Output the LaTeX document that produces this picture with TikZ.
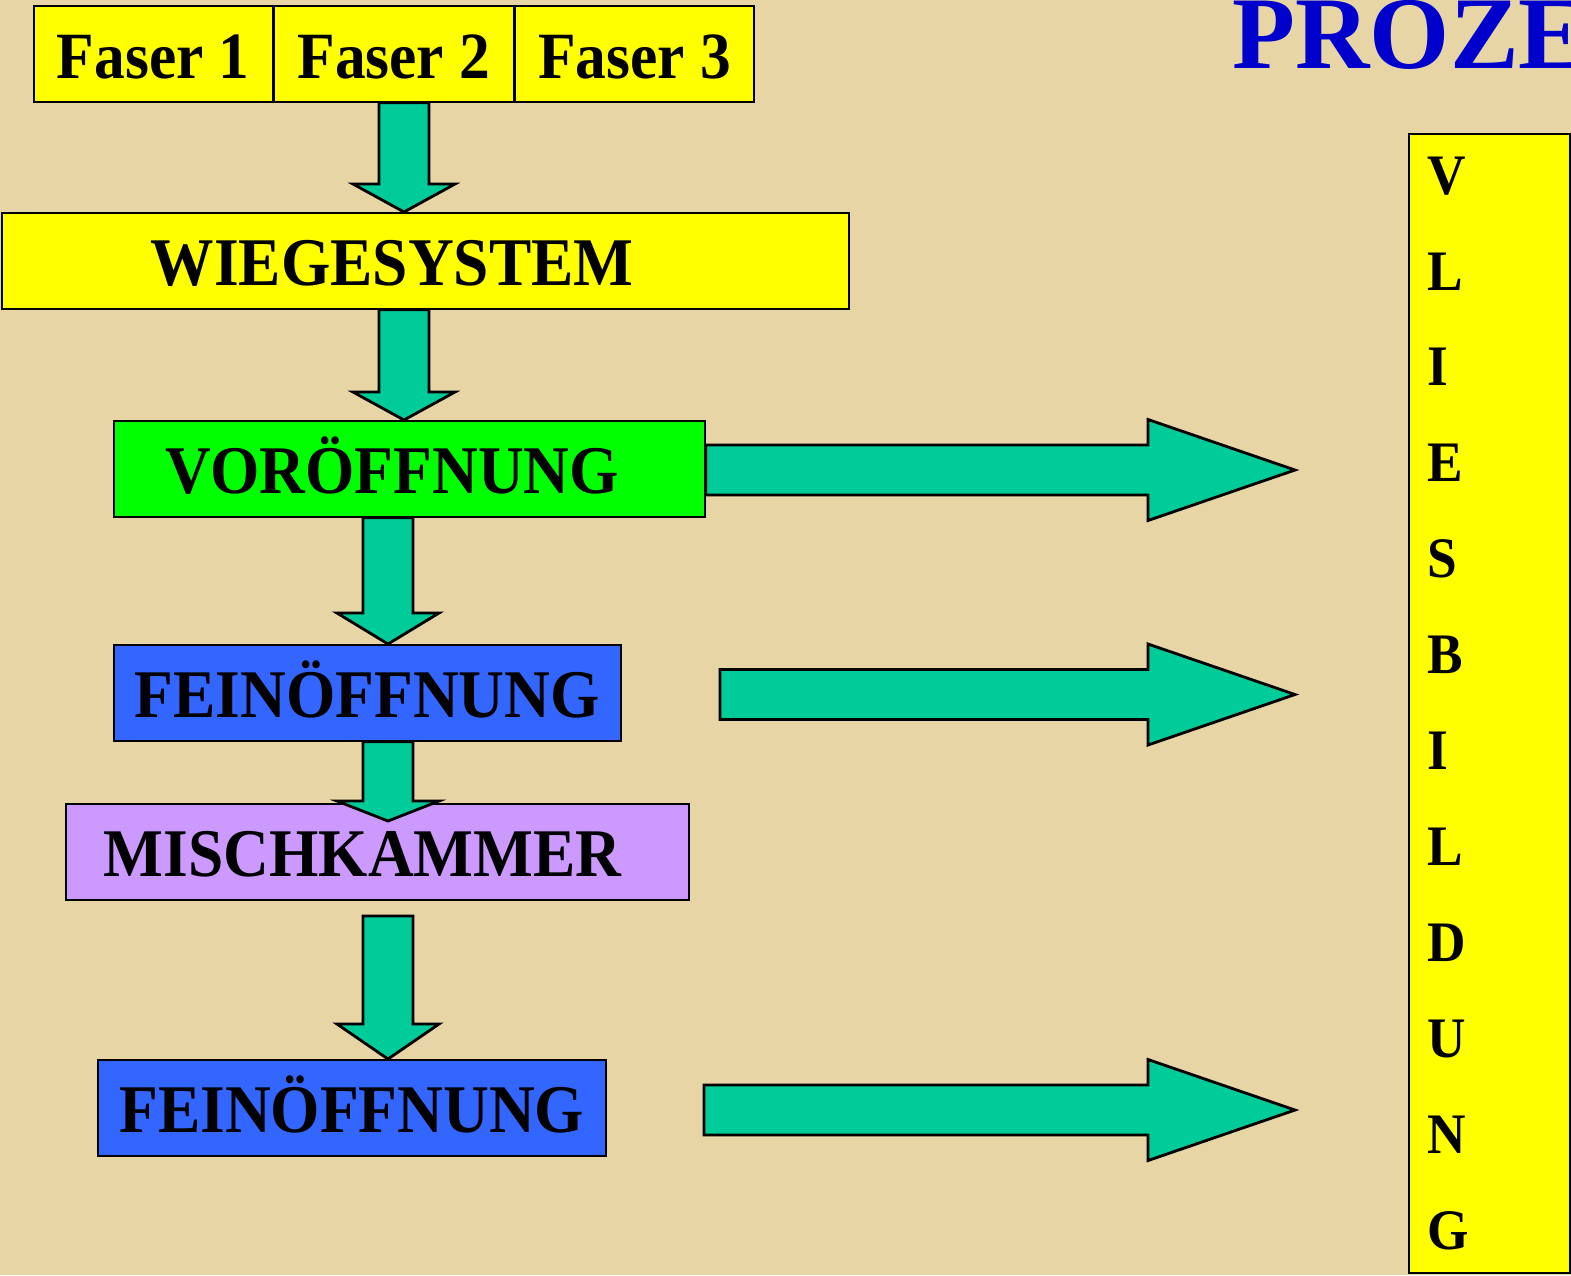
\documentclass[tikz,border=0pt]{standalone}
\usepackage{fontspec}
\setmainfont{Liberation Serif}
\newfontfamily\condfont[FakeStretch=0.93]{Liberation Serif}
\usetikzlibrary{positioning,calc}

\definecolor{paper}{RGB}{232,213,165}
\definecolor{boxyellow}{RGB}{255,255,0}
\definecolor{boxgreen}{RGB}{0,255,0}
\definecolor{boxblue}{RGB}{51,102,255}
\definecolor{boxlilac}{RGB}{204,153,255}
\definecolor{arrowgreen}{RGB}{0,204,153}
\definecolor{titleblue}{RGB}{0,0,204}

\tikzset{
    stage/.style={draw,line width=0.45pt,rectangle,minimum height=0.96cm,
        inner xsep=0pt,text height=0.5cm,text depth=0pt,
        font=\condfont\bfseries\fontsize{19.4pt}{22pt}\selectfont},
    fat/.style={fill=arrowgreen,draw=black,line width=0.8pt,line join=miter}
}

% block arrow downwards: start, tip, head length
\newcommand\fatdown[3]{%
    \filldraw[fat] ($(#1)+(-0.25,0)$) -- ($(#2)+(-0.25,-#3)$) -- ($(#2)+(-0.51,-#3)$)
        -- (#2) -- ($(#2)+(0.51,-#3)$) -- ($(#2)+(0.25,-#3)$) -- ($(#1)+(0.25,0)$) -- cycle;}
% block arrow to the right: start, tip
\newcommand\fatright[2]{%
    \filldraw[fat] ($(#1)+(0,-0.25)$) -- ($(#2)+(-1.47,-0.25)$) -- ($(#2)+(-1.47,-0.505)$)
        -- (#2) -- ($(#2)+(-1.47,0.505)$) -- ($(#2)+(-1.47,0.25)$) -- ($(#1)+(0,0.25)$) -- cycle;}

\begin{document}
\begin{tikzpicture}[x=1cm,y=-1cm]
    \clip (0,0) rectangle (15.71,12.75);
    \fill[paper] (0,0) rectangle (15.71,12.75);

    % fibres
    \begin{scope}[every node/.style={stage,fill=boxyellow,minimum width=2.39cm,
        font=\condfont\bfseries\fontsize{18.8pt}{22pt}\selectfont}]
        \node[anchor=north west] (faser1) at (0.33,0.05) {Faser 1};
        \node[right=0pt of faser1] (faser2) {Faser 2};
        \node[right=0pt of faser2] (faser3) {Faser 3};
    \end{scope}

    % process chain
    \node[stage,fill=boxyellow,anchor=north west,minimum width=8.47cm,
        text width=5.49cm,align=left] (wiege) at (0.01,2.12) {WIEGESYSTEM};
    \node[stage,fill=boxgreen,anchor=north west,minimum width=5.91cm,
        text width=4.87cm,align=left] (vor) at (1.13,4.20) {VORÖFFNUNG};
    \node[stage,fill=boxblue,anchor=north west,minimum width=5.07cm]
        (fein1) at (1.13,6.44) {FEINÖFFNUNG};
    \node[stage,fill=boxlilac,anchor=north west,minimum width=6.23cm,
        text width=5.47cm,align=left] (misch) at (0.65,8.03) {MISCHKAMMER};
    \node[stage,fill=boxblue,anchor=north west,minimum width=5.08cm]
        (fein2) at (0.97,10.59) {FEINÖFFNUNG};

    % fleece forming
    \node[draw,line width=0.45pt,fill=boxyellow,anchor=north west,
        minimum height=11.39cm,text width=1.23cm,inner xsep=0.19cm,align=left,
        font=\condfont\bfseries\fontsize{16.3pt}{27.3pt}\selectfont]
        (vlies) at (14.08,1.33) {V\\L\\I\\E\\S\\B\\I\\L\\D\\U\\N\\G};

    \node[anchor=base west,inner sep=0pt,text=titleblue,
        font=\bfseries\fontsize{29.3pt}{32pt}\selectfont] (titel) at (12.32,0.68) {PROZE};

    % arrows down
    \fatdown{faser2.south -| 4.04,0}{wiege.north -| 4.04,0}{0.28}
    \fatdown{wiege.south -| 4.04,0}{vor.north -| 4.04,0}{0.28}
    \fatdown{vor.south -| 3.88,0}{fein1.north -| 3.88,0}{0.31}
    \fatdown{fein1.south -| 3.88,0}{3.88,8.21}{0.20}
    \coordinate (m5) at (3.88,9.16);
    \fatdown{m5}{fein2.north -| 3.88,0}{0.35}

    % arrows right
    \coordinate (t1) at (12.95,4.70);
    \coordinate (t2) at (12.95,6.945);
    \coordinate (t3) at (12.95,11.10);
    \coordinate (r1) at (vor.east |- t1);
    \coordinate (r2) at (7.20,6.945);
    \coordinate (r3) at (7.04,11.10);
    \fatright{r1}{t1}
    \fatright{r2}{t2}
    \fatright{r3}{t3}
\end{tikzpicture}
\end{document}
